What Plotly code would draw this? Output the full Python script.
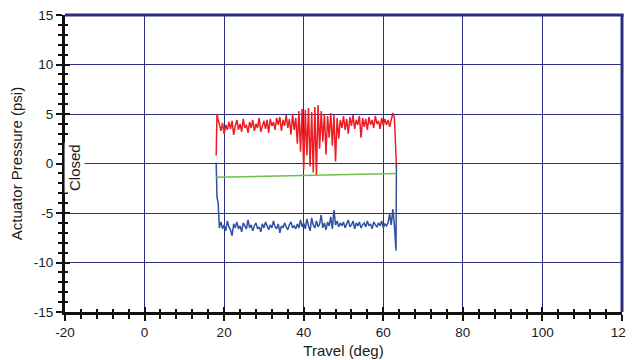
import plotly.graph_objects as go

# ---------------- data ----------------
travel = [18.0, 18.2, 18.5,
          18.8, 19.2, 19.6, 20.0, 20.4, 20.8, 21.2, 21.6, 22.0, 22.4,
          22.8, 23.2, 23.6, 24.0, 24.4, 24.8, 25.2, 25.6, 26.0, 26.4,
          26.8, 27.2, 27.6, 28.0, 28.4, 28.8, 29.2, 29.6, 30.0, 30.4,
          30.8, 31.2, 31.6, 32.0, 32.4, 32.8, 33.2, 33.6, 34.0, 34.4,
          34.8, 35.2, 35.6, 36.0, 36.4, 36.8, 37.2, 37.6, 38.0,
          38.4, 38.8, 39.2, 39.6, 40.0, 40.4, 40.8, 41.2, 41.6, 42.0,
          42.4, 42.8, 43.2, 43.6, 44.0, 44.4, 44.8, 45.2, 45.6, 46.0,
          46.4, 46.8, 47.2, 47.6, 48.0, 48.4, 48.8, 49.2,
          49.6, 50.0, 50.4, 50.8, 51.2, 51.6, 52.0, 52.4, 52.8, 53.2,
          53.6, 54.0, 54.4, 54.8, 55.2, 55.6, 56.0, 56.4, 56.8, 57.2,
          57.6, 58.0, 58.4, 58.8, 59.2, 59.6, 60.0, 60.4, 60.8, 61.2,
          61.6, 62.0,
          62.4, 62.8, 63.0, 63.2, 63.3]

opening_pressure = [0.8, 5.0, 4.4,
                    3.9, 3.3, 4.1, 3.0, 3.9, 3.4, 4.2, 3.5, 4.3, 2.9,
                    3.8, 4.4, 3.4, 4.0, 3.2, 4.5, 3.6, 3.9, 3.1, 4.2,
                    3.6, 4.4, 3.3, 4.0, 3.6, 4.6, 3.2, 3.9, 4.3, 3.5,
                    4.4, 3.1, 4.5, 3.8, 4.2, 3.4, 4.6, 3.9, 4.7, 3.3,
                    4.4, 3.8, 4.9, 3.6, 4.5, 2.9, 5.0, 3.4, 4.6,
                    2.0, 5.3, 1.2, 5.5, -0.6, 5.4, 0.8, 5.6, -0.3, 5.2,
                    -0.9, 5.7, -1.2, 5.9, 1.5, 5.3, 2.2, 5.0, 0.9, 4.8,
                    2.6, 5.1, 1.8, 4.9, 0.2, 4.6, 2.5, 4.4,
                    3.6, 4.8, 3.4, 4.5, 3.0, 4.7, 3.8, 4.9, 3.5, 4.4,
                    3.9, 4.8, 2.6, 4.6, 3.7, 4.5, 3.4, 4.7, 3.9, 4.4,
                    3.6, 4.8, 4.0, 4.3, 3.5, 4.6, 3.8, 4.5, 3.9, 4.4,
                    3.7, 4.5,
                    5.1, 4.6, 3.0, 1.0, -0.3]

closing_pressure = [0.1, -3.4, -4.0,
                    -6.5, -5.9, -6.6, -6.2, -6.8, -5.8, -6.4, -6.7, -7.3, -6.1,
                    -6.5, -5.9, -6.6, -6.3, -6.9, -6.0, -6.4, -6.6, -5.7, -6.5,
                    -6.2, -6.8, -6.3, -6.0, -6.6, -6.4, -6.9, -6.1, -6.5, -5.9,
                    -6.3, -6.7, -6.2, -6.5, -5.8, -6.4, -6.6, -6.1, -7.0, -6.3,
                    -6.5, -6.0, -6.4, -6.7, -6.2, -5.9, -6.5, -6.3, -6.6,
                    -6.1, -6.5, -5.7, -6.4, -6.0, -6.6, -5.6, -6.3, -6.8, -5.5,
                    -6.2, -6.5, -5.8, -6.4, -6.1, -5.2, -6.5, -6.0, -6.7, -5.9,
                    -6.3, -5.4, -6.6, -4.7, -6.2, -5.8, -6.4, -6.0,
                    -6.3, -5.9, -6.5, -6.1, -5.7, -6.4, -6.2, -5.8, -6.6, -6.0,
                    -6.3, -5.9, -6.5, -6.2, -6.0, -6.4, -5.8, -6.3, -6.1, -6.6,
                    -5.9, -6.2, -6.4, -6.0, -6.3, -5.8, -6.5, -6.1, -6.3, -6.0,
                    -5.1, -6.2,
                    -4.6, -6.3, -7.8, -8.8, -0.1]

bench_travel = [18.0, 63.3]
bench_pressure = [-1.4, -1.0]

x_ticks = [-20, 0, 20, 40, 60, 80, 100, 120]
x_tick_text = ["-20", "0", "20", "40", "60", "80", "100", "120"]
y_ticks = [-15, -10, -5, 0, 5, 10, 15]
y_tick_text = ["-15", "-10", "-5", "0", "5", "10", "15"]

NAVY = "#2b2e7e"
RED = "#ed1c24"
BLUE = "#3050a0"
GREEN = "#6cc04a"
FONT = "Liberation Sans, Arial, sans-serif"
TXT = "#1a1a1a"

fig = go.Figure()
fig.add_trace(go.Scatter(x=travel, y=opening_pressure, mode="lines",
                         line=dict(color=RED, width=1.5), showlegend=False))
fig.add_trace(go.Scatter(x=travel, y=closing_pressure, mode="lines",
                         line=dict(color=BLUE, width=1.5), showlegend=False))
fig.add_trace(go.Scatter(x=bench_travel, y=bench_pressure, mode="lines",
                         line=dict(color=GREEN, width=1.5), showlegend=False))
# invisible trace to activate inner-tick overlay axes
fig.add_trace(go.Scatter(x=[None], y=[None], xaxis="x2", yaxis="y2",
                         showlegend=False, hoverinfo="skip"))

tick_font = dict(family=FONT, size=13.5, color=TXT)
title_font = dict(family=FONT, size=15, color=TXT)

# the page body has an 8px margin, so the figure is sized to fit inside it
fig.update_layout(
    width=626, height=352,
    margin=dict(l=57, r=12, t=7, b=48),
    paper_bgcolor="white", plot_bgcolor="white",
    font=tick_font,
    xaxis=dict(range=[-20, 120], tickvals=x_ticks, ticktext=x_tick_text,
               ticks="outside", automargin=False, ticklabeloverflow="allow",
               ticklen=6, tickwidth=2, tickcolor="#111",
               showline=True, linecolor="#111", linewidth=3,
               showgrid=True, gridcolor=NAVY, gridwidth=1.3,
               zeroline=False,
               minor=dict(dtick=4, ticks="outside", ticklen=4,
                          tickwidth=1.5, tickcolor="#111", showgrid=False),
               title=dict(text="Travel (deg)", font=title_font, standoff=7),
               tickfont=tick_font),
    yaxis=dict(range=[-15, 15], tickvals=y_ticks, ticktext=y_tick_text,
               ticks="outside", automargin=False, ticklabeloverflow="allow",
               ticklen=6, tickwidth=2, tickcolor="#111",
               showline=True, linecolor="#111", linewidth=3,
               showgrid=True, gridcolor=NAVY, gridwidth=1.3,
               zeroline=False,
               minor=dict(dtick=1, ticks="outside", ticklen=4,
                          tickwidth=1.5, tickcolor="#111", showgrid=False),
               title=dict(text="Actuator Pressure (psi)", font=title_font,
                          standoff=10),
               tickfont=tick_font),
    xaxis2=dict(range=[-20, 120], overlaying="x", side="bottom",
                tickvals=x_ticks, ticks="inside", ticklen=5, tickwidth=2,
                tickcolor="#111", showticklabels=False, showgrid=False,
                zeroline=False, showline=False, automargin=False,
                minor=dict(dtick=4, ticks="inside", ticklen=3,
                           tickwidth=1.5, tickcolor="#111")),
    yaxis2=dict(range=[-15, 15], overlaying="y", side="left",
                tickvals=y_ticks, ticks="inside", ticklen=5, tickwidth=2,
                tickcolor="#111", showticklabels=False, showgrid=False,
                zeroline=False, showline=False, automargin=False,
                minor=dict(dtick=1, ticks="inside", ticklen=3,
                           tickwidth=1.5, tickcolor="#111")),
    shapes=[
        dict(type="line", xref="paper", yref="paper", x0=0, x1=1.003, y0=1, y1=1,
             line=dict(color=NAVY, width=3)),
        dict(type="line", xref="paper", yref="paper", x0=1, x1=1, y0=0, y1=1,
             line=dict(color=NAVY, width=3)),
    ],
    annotations=[
        dict(x=-17.6, y=-0.4, xref="x", yref="y", text="Closed",
             textangle=-90, showarrow=False, bgcolor="white",
             font=dict(family=FONT, size=15, color=TXT))
    ],
)

fig.write_html("out.html")
